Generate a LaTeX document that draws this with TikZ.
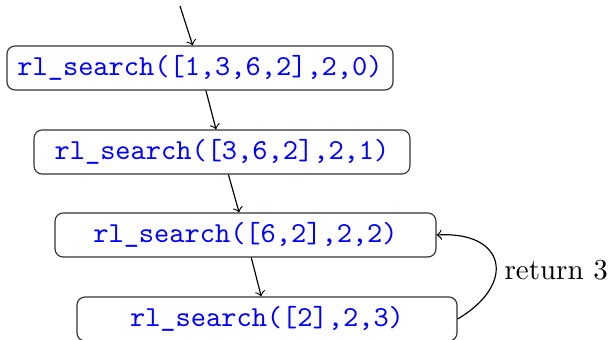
\documentclass[tikz,border=0pt]{standalone}
\begin{document}
\begin{tikzpicture}[x=0.345pt,y=-0.345pt,
  callbox/.style={draw=black!80, rounded corners=2.8pt, minimum height=15.2pt,
    inner sep=0pt, font=\ttfamily, text=blue},
  conn/.style={->, line width=0.4pt}]
\useasboundingbox (0,0) rectangle (611,340);
\node[callbox, minimum width=133.2pt] (b1) at (200,68) {rl\_search([1,3,6,2],2,0)};
\node[callbox, minimum width=129.7pt] (b2) at (222,152) {rl\_search([3,6,2],2,1)};
\node[callbox, minimum width=131.4pt] (b3) at (245.5,235) {rl\_search([6,2],2,2)};
\node[callbox, minimum width=131.1pt] (b4) at (267,319) {rl\_search([2],2,3)};
\coordinate (start) at (180,6);
\draw[conn] (start) -- (b1);
\draw[conn] (b1) -- (b2);
\draw[conn] (b2) -- (b3);
\draw[conn] (b3) -- (b4);
\draw[conn] (b4.east) .. controls (517,284) and (506,231) .. (b3.east);
\node[anchor=west, inner sep=0pt] (ret) at (504,270) {return 3};
\end{tikzpicture}
\end{document}
